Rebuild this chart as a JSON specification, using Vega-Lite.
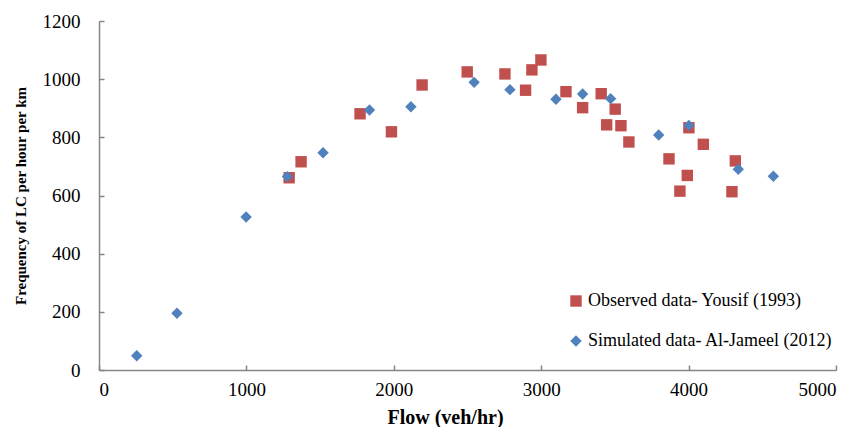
{
  "$schema": "https://vega.github.io/schema/vega-lite/v6.json",
  "width": 737,
  "height": 349,
  "autosize": {"type": "none"},
  "padding": {"left": 99, "top": 21, "right": 24, "bottom": 57},
  "background": "white",
  "config": {
    "view": {"stroke": null},
    "font": "Liberation Serif",
    "axis": {
      "grid": false,
      "domainColor": "#868686",
      "domainWidth": 1.5,
      "tickColor": "#868686",
      "tickWidth": 1.5,
      "labelFont": "Liberation Serif",
      "labelFontSize": 19,
      "labelColor": "#000000",
      "titleFont": "Liberation Serif",
      "titleColor": "#000000",
      "titleFontWeight": "bold"
    },
    "legend": {
      "labelFont": "Liberation Serif"
    }
  },
  "data": {
    "values": [
      {"series": "Observed data- Yousif (1993)", "flow": 1290, "freq": 661},
      {"series": "Observed data- Yousif (1993)", "flow": 1371, "freq": 716},
      {"series": "Observed data- Yousif (1993)", "flow": 1771, "freq": 881},
      {"series": "Observed data- Yousif (1993)", "flow": 1984, "freq": 819},
      {"series": "Observed data- Yousif (1993)", "flow": 2192, "freq": 980},
      {"series": "Observed data- Yousif (1993)", "flow": 2498, "freq": 1025},
      {"series": "Observed data- Yousif (1993)", "flow": 2754, "freq": 1018},
      {"series": "Observed data- Yousif (1993)", "flow": 2894, "freq": 962},
      {"series": "Observed data- Yousif (1993)", "flow": 2937, "freq": 1032},
      {"series": "Observed data- Yousif (1993)", "flow": 2998, "freq": 1066},
      {"series": "Observed data- Yousif (1993)", "flow": 3168, "freq": 957},
      {"series": "Observed data- Yousif (1993)", "flow": 3281, "freq": 902},
      {"series": "Observed data- Yousif (1993)", "flow": 3407, "freq": 950},
      {"series": "Observed data- Yousif (1993)", "flow": 3444, "freq": 843},
      {"series": "Observed data- Yousif (1993)", "flow": 3502, "freq": 897},
      {"series": "Observed data- Yousif (1993)", "flow": 3541, "freq": 840},
      {"series": "Observed data- Yousif (1993)", "flow": 3595, "freq": 784},
      {"series": "Observed data- Yousif (1993)", "flow": 3867, "freq": 726},
      {"series": "Observed data- Yousif (1993)", "flow": 3941, "freq": 615},
      {"series": "Observed data- Yousif (1993)", "flow": 3991, "freq": 669},
      {"series": "Observed data- Yousif (1993)", "flow": 4002, "freq": 833},
      {"series": "Observed data- Yousif (1993)", "flow": 4100, "freq": 776},
      {"series": "Observed data- Yousif (1993)", "flow": 4294, "freq": 613},
      {"series": "Observed data- Yousif (1993)", "flow": 4317, "freq": 719},
      {"series": "Simulated data- Al-Jameel (2012)", "flow": 256, "freq": 49},
      {"series": "Simulated data- Al-Jameel (2012)", "flow": 529, "freq": 195},
      {"series": "Simulated data- Al-Jameel (2012)", "flow": 998, "freq": 526},
      {"series": "Simulated data- Al-Jameel (2012)", "flow": 1278, "freq": 665},
      {"series": "Simulated data- Al-Jameel (2012)", "flow": 1520, "freq": 747},
      {"series": "Simulated data- Al-Jameel (2012)", "flow": 1835, "freq": 894},
      {"series": "Simulated data- Al-Jameel (2012)", "flow": 2116, "freq": 905},
      {"series": "Simulated data- Al-Jameel (2012)", "flow": 2545, "freq": 989},
      {"series": "Simulated data- Al-Jameel (2012)", "flow": 2788, "freq": 964},
      {"series": "Simulated data- Al-Jameel (2012)", "flow": 3100, "freq": 931},
      {"series": "Simulated data- Al-Jameel (2012)", "flow": 3281, "freq": 949},
      {"series": "Simulated data- Al-Jameel (2012)", "flow": 3471, "freq": 933},
      {"series": "Simulated data- Al-Jameel (2012)", "flow": 3797, "freq": 808},
      {"series": "Simulated data- Al-Jameel (2012)", "flow": 4002, "freq": 841},
      {"series": "Simulated data- Al-Jameel (2012)", "flow": 4337, "freq": 690},
      {"series": "Simulated data- Al-Jameel (2012)", "flow": 4575, "freq": 666}
    ]
  },
  "mark": {"type": "point", "filled": true, "opacity": 1, "size": 130},
  "encoding": {
    "x": {
      "field": "flow",
      "type": "quantitative",
      "scale": {"domain": [0, 5000], "nice": false},
      "axis": {
        "values": [0, 1000, 2000, 3000, 4000, 5000],
        "format": "d",
        "tickSize": -5,
        "labelPadding": 15,
        "title": "Flow (veh/hr)",
        "titleFontSize": 20,
        "titlePadding": 8,
        "titleX": 346,
        "titleAlign": "center"
      }
    },
    "y": {
      "field": "freq",
      "type": "quantitative",
      "scale": {"domain": [0, 1200], "nice": false},
      "axis": {
        "values": [0, 200, 400, 600, 800, 1000, 1200],
        "format": "d",
        "tickSize": -5,
        "labelPadding": 24,
        "title": "Frequency of LC per hour per km",
        "titleFontSize": 15,
        "titlePadding": 14
      }
    },
    "color": {
      "field": "series",
      "type": "nominal",
      "scale": {
        "domain": ["Observed data- Yousif (1993)", "Simulated data- Al-Jameel (2012)"],
        "range": ["#C0504D", "#4F81BD"]
      },
      "legend": {
        "title": null,
        "orient": "none",
        "legendX": 468,
        "legendY": 271,
        "labelFont": "Liberation Serif",
        "labelFontSize": 18,
        "labelColor": "#000000",
        "rowPadding": 22,
        "symbolSize": 130,
        "labelOffset": 3,
        "labelLimit": 400
      }
    },
    "shape": {
      "field": "series",
      "type": "nominal",
      "scale": {
        "domain": ["Observed data- Yousif (1993)", "Simulated data- Al-Jameel (2012)"],
        "range": ["square", "diamond"]
      }
    }
  }
}
